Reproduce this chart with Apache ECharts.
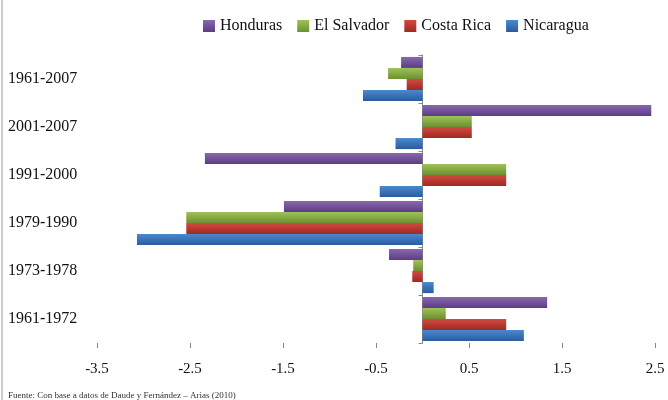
<!DOCTYPE html>
<html>
<head>
<meta charset="utf-8">
<script src="https://cdn.jsdelivr.net/npm/echarts@6/dist/echarts.min.js"></script>
<style>
  html, body { margin: 0; padding: 0; background: #fff; }
  #chart { width: 668px; height: 400px; }
</style>
</head>
<body>
<div id="chart"></div>
<script>
// periods, bottom to top
var periods = ['1961-1972', '1973-1978', '1979-1990', '1991-2000', '2001-2007', '1961-2007'];

var honduras   = [1.34, -0.36, -1.49, -2.34, 2.46, -0.23];
var elSalvador = [0.25, -0.10, -2.54, 0.90, 0.53, -0.37];
var costaRica  = [0.90, -0.11, -2.54, 0.90, 0.53, -0.17];
var nicaragua  = [1.09, 0.12, -3.07, -0.46, -0.29, -0.64];

var legendNames = ['Honduras', 'El Salvador', 'Costa Rica', 'Nicaragua'];
var footnote = 'Fuente: Con base a datos de Daude y Fernández – Arias (2010)';

var serif = '"Liberation Serif", "DejaVu Serif", serif';

function grad(top, bottom) {
    return new echarts.graphic.LinearGradient(0, 0, 0, 1, [
        { offset: 0, color: top },
        { offset: 1, color: bottom }
    ]);
}

function barSeries(name, data, top, bottom) {
    return {
        name: name,
        type: 'bar',
        data: data,
        barGap: '0%',
        barCategoryGap: '8%',
        itemStyle: { color: grad(top, bottom) }
    };
}

var chart = echarts.init(document.getElementById('chart'));

var option = {
    animation: false,
    color: ['#6e4b96', '#86ad3f', '#b8322a', '#2f6cb3'],
    grid: { left: 97, right: 13, top: 55, bottom: 57 },
    legend: {
        data: legendNames,
        left: 198,
        top: 13,
        itemWidth: 12,
        itemHeight: 12,
        itemGap: 15,
        icon: 'rect',
        textStyle: { fontFamily: serif, fontSize: 16, color: '#111' }
    },
    xAxis: {
        type: 'value',
        min: -3.5,
        max: 2.5,
        interval: 1,
        splitLine: { show: false },
        axisLine: { onZero: false, lineStyle: { color: '#888', width: 1.5 } },
        axisTick: { show: true, length: 5, lineStyle: { color: '#888' } },
        axisLabel: {
            margin: 19,
            fontFamily: serif,
            fontSize: 15,
            color: '#111',
            formatter: function (v) { return v.toFixed(1); }
        }
    },
    yAxis: [
        {
            type: 'category',
            data: periods,
            axisLine: { show: false, onZero: false },
            axisTick: { show: false },
            axisLabel: {
                align: 'left',
                margin: 89,
                fontFamily: serif,
                fontSize: 16,
                color: '#111'
            }
        },
        {
            type: 'category',
            data: periods,
            position: 'left',
            axisLine: { onZero: true, lineStyle: { color: '#888' } },
            axisTick: { show: true, length: 4, lineStyle: { color: '#888' } },
            axisLabel: { show: false }
        }
    ],
    // first series is drawn at the top of each group
    series: [
        barSeries('Honduras', honduras, '#8868b0', '#5c3d84'),
        barSeries('El Salvador', elSalvador, '#9dc35a', '#6e902f'),
        barSeries('Costa Rica', costaRica, '#d24a40', '#9e2a22'),
        barSeries('Nicaragua', nicaragua, '#4a88d0', '#2a5c9e')
    ],
    graphic: [
        {
            type: 'line',
            shape: { x1: 2, y1: 0, x2: 2, y2: 400 },
            style: { stroke: '#999', lineWidth: 1 }
        },
        {
            type: 'text',
            left: 8,
            top: 391,
            style: { text: footnote, fontFamily: serif, fontSize: 9, fill: '#333' }
        }
    ]
};

chart.setOption(option);
</script>
</body>
</html>
